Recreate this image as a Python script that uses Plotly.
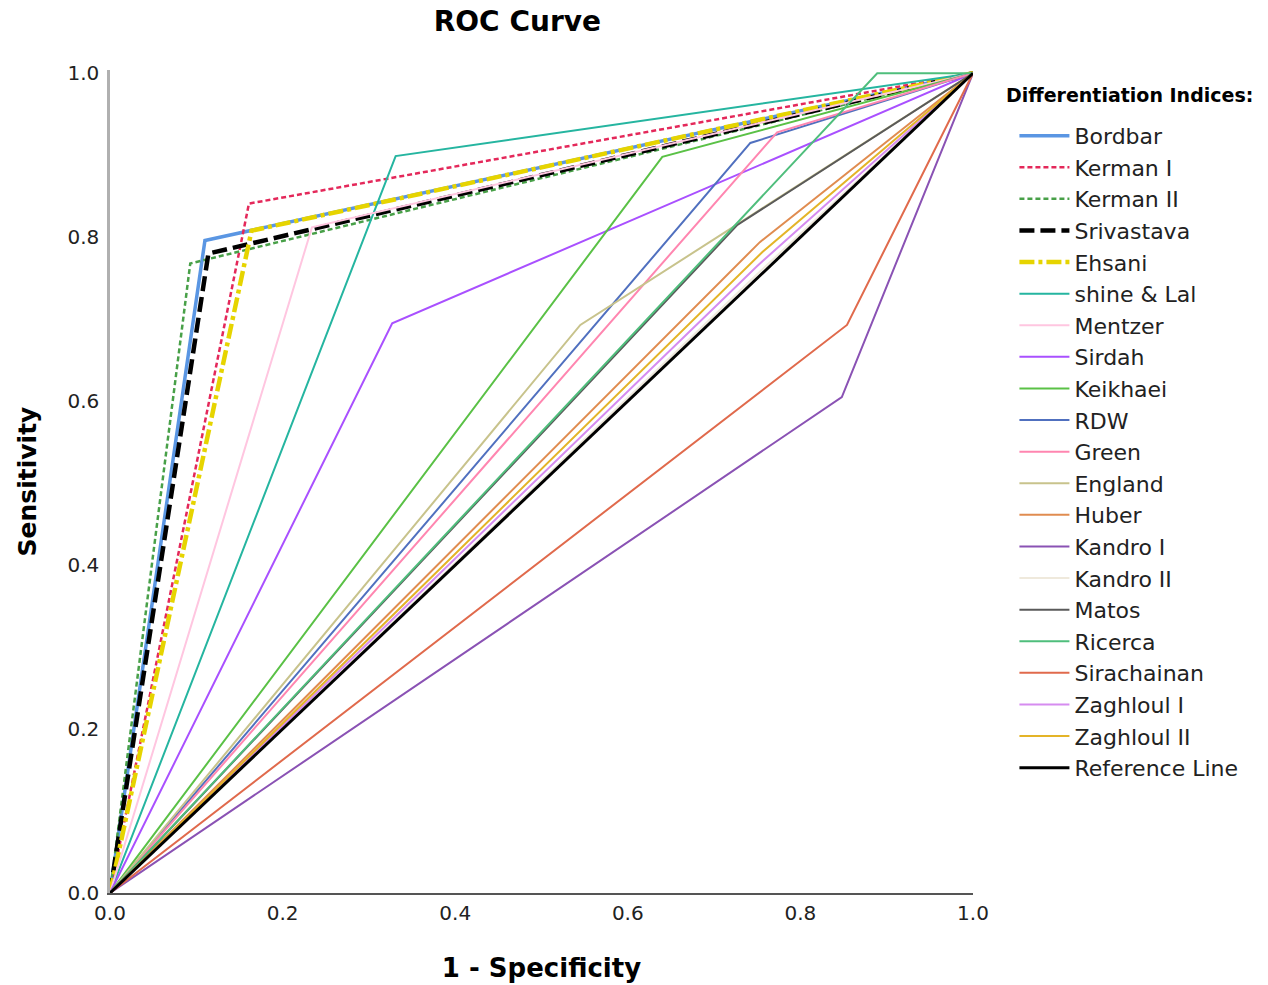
import plotly.graph_objects as go

# ---- data ----
indices = ["Bordbar", "Kerman I", "Kerman II", "Srivastava", "Ehsani", "shine & Lal",
           "Mentzer", "Sirdah", "Keikhaei", "RDW", "Green", "England", "Huber",
           "Kandro I", "Kandro II", "Matos", "Ricerca", "Sirachainan",
           "Zaghloul I", "Zaghloul II"]
# operating point (1 - specificity, sensitivity) of each index
one_minus_spec = [0.110, 0.161, 0.093, 0.114, 0.164, 0.331,
                  0.234, 0.327, 0.640, 0.742, 0.773, 0.545, 0.753,
                  0.848, 0.755, 0.727, 0.889, 0.854,
                  0.750, 0.756]
sensitivity = [0.796, 0.841, 0.768, 0.780, 0.808, 0.899,
               0.812, 0.695, 0.898, 0.915, 0.928, 0.693, 0.794,
               0.605, 0.760, 0.815, 1.000, 0.693,
               0.765, 0.782]
ref_x = [0.0, 1.0]
ref_y = [0.0, 1.0]
x_ticks = [0.0, 0.2, 0.4, 0.6, 0.8, 1.0]
y_ticks = [0.0, 0.2, 0.4, 0.6, 0.8, 1.0]

# ---- styles ----
colors = ["#5a96e3", "#e4285a", "#48a048", "#000000", "#e6d400", "#25b5a0",
          "#ffc6e0", "#a950ff", "#5ac146", "#5070bf", "#ff86b0", "#c8c38c", "#e08c50",
          "#8a52b4", "#efe9dc", "#5a5a5a", "#4fbe7c", "#e06a4c",
          "#d68cf0", "#e4b428"]
widths = [3.5, 2.5, 2.5, 4.5, 4.5, 2, 2, 2, 2, 2, 2, 2, 2, 2, 2, 2, 2, 2, 2, 2]
dashes = ["solid", "5px,3px", "5px,3px", "15px,6px", "15px,4px,4px,4px"] + ["solid"] * 15

FONT = "DejaVu Sans"
fig = go.Figure()
for i, name in enumerate(indices):
    fig.add_trace(go.Scatter(
        x=[0.0, one_minus_spec[i], 1.0], y=[0.0, sensitivity[i], 1.0],
        mode="lines", name=name, legendgroup=name,
        line=dict(color=colors[i], width=widths[i], dash=dashes[i]),
        hoverinfo="name+x+y"))
fig.add_trace(go.Scatter(x=ref_x, y=ref_y, mode="lines", name="Reference Line",
                         legendgroup="ref", line=dict(color="#000000", width=3)))

fig.update_layout(
    width=1268, height=985,
    paper_bgcolor="white", plot_bgcolor="white",
    margin=dict(l=110, r=295, t=70, b=92, autoexpand=False),
    title=dict(text="<b>ROC Curve</b>", x=0.472, xref="paper", xanchor="center",
               y=1 - 21 / 985, yref="container", yanchor="middle",
               font=dict(family=FONT, size=28, color="#000000")),
    font=dict(family=FONT, color="#222222"),
    showlegend=True,
    legend=dict(x=1.048, xanchor="left", y=0.9455, yanchor="top",
                font=dict(family=FONT, size=22, color="#222222"),
                tracegroupgap=0, itemwidth=50, bgcolor="rgba(0,0,0,0)"),
    annotations=[dict(text="<b>Differentiation Indices:</b>", xref="paper", yref="paper",
                      x=1.036, y=0.970, xanchor="left", yanchor="middle", showarrow=False,
                      font=dict(family=FONT, size=19, color="#000000"))],
)
fig.update_xaxes(range=[0, 1], tickvals=x_ticks, ticktext=[f"{v:.1f}" for v in x_ticks],
                 showgrid=False, zeroline=False, showline=True, linecolor="#555555", linewidth=1.5,
                 ticks="outside", ticklen=1, tickcolor="rgba(0,0,0,0)",
                 tickfont=dict(family=FONT, size=20, color="#222222"),
                 title=dict(text="<b>1 - Specificity</b>", standoff=35,
                            font=dict(family=FONT, size=26, color="#000000")))
fig.update_yaxes(range=[0, 1.004], tickvals=y_ticks, ticktext=[f"{v:.1f}" for v in y_ticks],
                 showgrid=False, zeroline=False, showline=True, linecolor="#b0b0b0", linewidth=2.5,
                 ticks="outside", ticklen=4, tickcolor="rgba(0,0,0,0)",
                 tickfont=dict(family=FONT, size=20, color="#222222"),
                 title=dict(text="<b>Sensitivity</b>", standoff=24,
                            font=dict(family=FONT, size=25, color="#000000")))

fig.write_html("out.html", config={"displayModeBar": False},
               post_script="document.body.style.margin='0';")
